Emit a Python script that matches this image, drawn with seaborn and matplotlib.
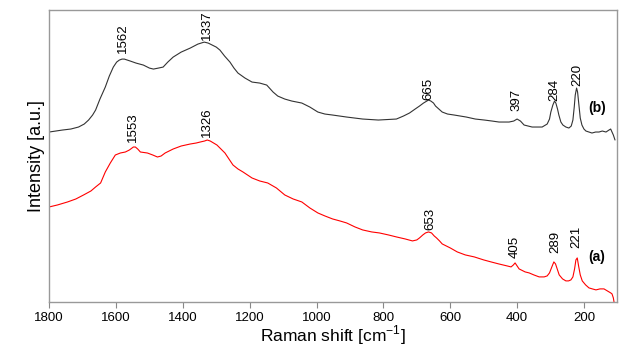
import matplotlib
matplotlib.use("Agg")
import matplotlib.pyplot as plt
import seaborn as sns
import pandas as pd

# spectrum (b), upper, black
shift_b = [1800, 1780, 1760, 1735, 1712, 1695, 1682, 1670, 1661, 1648, 1632, 1620, 1608,
           1598, 1590, 1582, 1575, 1566, 1557, 1540, 1518, 1500, 1488, 1473, 1459,
           1445, 1429, 1405, 1378, 1355, 1336, 1324, 1312, 1300, 1289, 1275, 1259, 1247,
           1235, 1214, 1193, 1170, 1149, 1130, 1116, 1095, 1074, 1044, 1020,
           996, 975, 952, 910, 862, 815, 761, 740, 722, 705, 692, 680, 670, 665, 658, 650,
           644, 624, 608, 588, 570, 552, 525, 498, 475, 454, 424, 410, 400, 390, 379,
           355, 325, 310, 303, 299, 293, 288, 284, 279, 275, 269, 263, 254, 245, 238, 233,
           229, 226, 222, 219, 215, 211, 206, 200, 194, 185, 176, 165, 155, 145,
           134, 125, 120, 116, 112, 107]
int_b = [170, 171, 172, 173, 175, 178, 182, 187, 192, 203, 215, 226, 235,
         240, 242, 243, 243, 242, 241, 239, 237, 234, 233, 234, 235,
         240, 245, 250, 254, 258, 260, 259, 257, 255, 252, 246, 240, 234,
         229, 224, 220, 219, 217, 210, 206, 203, 201, 199, 195,
         190, 188, 187, 185, 183, 182, 183, 186, 189, 193, 196, 199, 201, 202, 201, 199,
         196, 190, 188, 187, 186, 185, 183, 182, 181, 180, 180, 181, 183, 181, 177,
         175, 175, 178, 183, 190, 197, 201, 199, 193, 187, 180, 177, 175, 174, 176, 182,
         195, 207, 214, 210, 197, 184, 177, 173, 171, 170, 169, 170, 170, 171,
         170, 172, 173, 170, 167, 162]

# spectrum (a), lower, red
shift_a = [1800, 1775, 1745, 1720, 1697, 1675, 1661, 1646, 1632, 1617, 1602, 1587, 1572,
           1560, 1548, 1542, 1535, 1527, 1506, 1490, 1476, 1465, 1453, 1429, 1405, 1378,
           1360, 1348, 1335, 1327, 1318, 1308, 1298, 1286, 1274, 1262, 1250, 1235, 1220,
           1193, 1170, 1146, 1120, 1095, 1070, 1044, 1020, 996, 975, 952, 930, 910, 885,
           862, 835, 812, 785, 761, 735, 713, 700, 692, 682, 674, 665, 656, 648, 641, 632,
           624, 600, 579, 555, 528, 500, 478, 455, 430, 418, 411, 406, 400, 394, 388,
           376, 364, 350, 334, 319, 310, 303, 296, 290, 285, 280, 274, 264, 254, 246, 239,
           233, 228, 224, 220, 216, 211, 205, 195, 185, 175, 164, 152, 140, 130, 125, 120,
           116, 112, 110]
int_a = [95, 97, 100, 103, 107, 111, 115, 119, 130, 139, 147, 149, 150,
         152, 155, 155, 153, 150, 149, 147, 145, 146, 149, 153, 156, 158,
         159, 160, 161, 162, 161, 159, 157, 153, 149, 143, 137, 133, 130,
         124, 121, 119, 114, 107, 103, 100, 94, 89, 86, 83, 81, 79, 75,
         72, 70, 69, 67, 65, 63, 61, 62, 64, 67, 69, 70, 69, 66, 64, 61,
         58, 54, 50, 47, 45, 42, 40, 38, 36, 35, 37, 39, 36, 33, 32,
         30, 29, 27, 25, 25, 26, 29, 35, 40, 38, 33, 27, 23, 21, 21, 22,
         25, 33, 42, 44, 36, 27, 21, 17, 14, 13, 12, 13, 13, 11, 10, 9,
         8, 4, 0]

# peak labels
peaks_b = ["1562", "1337", "665", "397", "284", "220"]
peaks_b_x = [1578, 1327, 665, 403, 290, 221]
peaks_b_y = [249, 262, 202, 191, 201, 216]
peaks_a = ["1553", "1326", "653", "405", "289", "221"]
peaks_a_x = [1548, 1327, 659, 406, 287, 224]
peaks_a_y = [160, 165, 72, 44, 49, 54]

xticks = [1800, 1600, 1400, 1200, 1000, 800, 600, 400, 200]

sns.set_style("white")
plt.rcParams["font.family"] = ["Liberation Sans", "DejaVu Sans"]
plt.rcParams["text.color"] = "black"
plt.rcParams["axes.labelcolor"] = "black"
plt.rcParams["xtick.labelcolor"] = "black"

df_b = pd.DataFrame({"shift": shift_b, "intensity": int_b})
df_a = pd.DataFrame({"shift": shift_a, "intensity": int_a})

fig, ax = plt.subplots(figsize=(6.22, 3.49), dpi=100)
fig.subplots_adjust(left=0.079, right=0.992, top=0.971, bottom=0.135)

sns.lineplot(data=df_b, x="shift", y="intensity", color="#333333", linewidth=0.8, ax=ax)
sns.lineplot(data=df_a, x="shift", y="intensity", color="#ff0000", linewidth=0.8, ax=ax)

for lab, px, py in zip(peaks_b, peaks_b_x, peaks_b_y):
    ax.text(px, py, lab, rotation=90, ha="center", va="bottom", fontsize=9.5)
for lab, px, py in zip(peaks_a, peaks_a_x, peaks_a_y):
    ax.text(px, py, lab, rotation=90, ha="center", va="bottom", fontsize=9.5)

ax.text(162, 194, "(b)", ha="center", va="center", fontsize=10, fontweight="bold")
ax.text(162, 45, "(a)", ha="center", va="center", fontsize=10, fontweight="bold")

ax.set_xlim(1800, 101)
ax.set_ylim(0, 292)
ax.set_xticks(xticks)
ax.set_yticks([])
ax.tick_params(axis="x", direction="out", length=4, width=0.8, color="#888888",
               labelsize=9.5, labelcolor="black", pad=3, bottom=True)
for sp in ax.spines.values():
    sp.set_color("#999999")
    sp.set_linewidth(1)

ax.set_xlabel("Raman shift [cm$^{\\mathregular{-1}}$]", fontsize=12.5, labelpad=0)
ax.set_ylabel("Intensity [a.u.]", fontsize=13, labelpad=3)

fig.savefig("out.png", dpi=100)
